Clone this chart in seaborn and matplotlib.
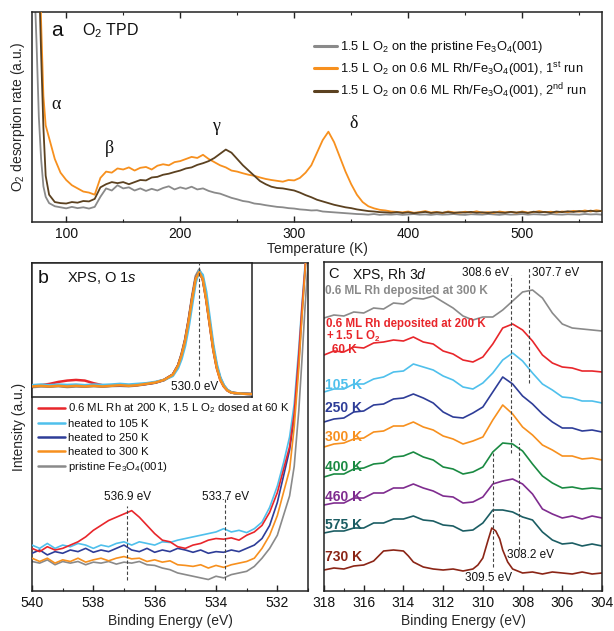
import matplotlib
matplotlib.use("Agg")
import matplotlib.pyplot as plt
from matplotlib.ticker import MultipleLocator
import seaborn as sns

# ------------------------------------------------------------------ data
# Panel a: O2 TPD
TPD_T = [70, 72, 74, 76, 78, 80, 82,
         85, 90, 95, 100, 105, 110, 115, 120, 125, 130,
         135, 140, 145, 150, 155, 160, 165, 170, 175, 180,
         185, 190, 195, 200, 205, 210, 215, 220, 225, 230,
         235, 240, 245, 250, 255, 260, 265, 270, 275, 280,
         285, 290, 295, 300, 305, 310, 315, 320, 325, 330,
         335, 340, 345, 350, 355, 360, 365, 370, 375, 380,
         385, 390, 395, 400, 405, 410, 415, 420, 425, 430,
         435, 440, 445, 450, 455, 460, 465, 470, 475, 480,
         485, 490, 495, 500, 505, 510, 515, 520, 525, 530,
         535, 540, 545, 550, 555, 560, 565, 570]
TPD_pristine = [1.6, 1.15, 0.85, 0.5, 0.3, 0.17, 0.12,
                0.09, 0.075, 0.07, 0.065, 0.072, 0.066, 0.07, 0.064, 0.072, 0.12,
                0.16, 0.15, 0.175, 0.16, 0.165, 0.15, 0.16, 0.148, 0.158, 0.15,
                0.162, 0.17, 0.155, 0.165, 0.158, 0.168, 0.155, 0.16, 0.148, 0.14,
                0.135, 0.125, 0.115, 0.108, 0.1, 0.096, 0.088, 0.085, 0.08, 0.076,
                0.072, 0.07, 0.066, 0.064, 0.06, 0.058, 0.055, 0.056, 0.05, 0.048,
                0.046, 0.044, 0.042, 0.04, 0.038, 0.037, 0.035, 0.038, 0.034, 0.036,
                0.035, 0.037, 0.034, 0.036, 0.038, 0.035, 0.036, 0.034, 0.037, 0.035,
                0.036, 0.038, 0.035, 0.034, 0.037, 0.036, 0.035, 0.038, 0.036, 0.034,
                0.037, 0.035, 0.036, 0.038, 0.035, 0.037, 0.036, 0.034, 0.038, 0.036,
                0.035, 0.037, 0.036, 0.035, 0.038, 0.036, 0.037, 0.035]
TPD_run1 = [3.0, 2.5, 2.0, 1.4, 0.95, 0.6, 0.46,
            0.40, 0.30, 0.235, 0.2, 0.175, 0.16, 0.145, 0.14, 0.13, 0.21,
            0.24, 0.235, 0.255, 0.25, 0.26, 0.245, 0.258, 0.262, 0.25, 0.268,
            0.275, 0.27, 0.285, 0.29, 0.3, 0.31, 0.305, 0.32, 0.3, 0.285,
            0.27, 0.26, 0.245, 0.24, 0.232, 0.225, 0.22, 0.212, 0.205, 0.2,
            0.196, 0.192, 0.2, 0.198, 0.21, 0.235, 0.27, 0.33, 0.39, 0.43,
            0.38, 0.31, 0.24, 0.18, 0.13, 0.095, 0.075, 0.065, 0.058, 0.055,
            0.05, 0.048, 0.046, 0.05, 0.044, 0.047, 0.052, 0.045, 0.048, 0.043,
            0.05, 0.046, 0.044, 0.049, 0.045, 0.051, 0.044, 0.047, 0.043, 0.05,
            0.046, 0.048, 0.044, 0.05, 0.045, 0.047, 0.052, 0.046, 0.049, 0.045,
            0.05, 0.047, 0.053, 0.049, 0.055, 0.05, 0.056, 0.052]
TPD_run2 = [3.0, 2.4, 1.8, 1.2, 0.8, 0.45, 0.22,
            0.13, 0.095, 0.09, 0.088, 0.095, 0.092, 0.1, 0.098, 0.11, 0.165,
            0.18, 0.19, 0.185, 0.19, 0.18, 0.19, 0.2, 0.198, 0.212, 0.215,
            0.225, 0.23, 0.238, 0.245, 0.255, 0.26, 0.272, 0.28, 0.29, 0.305,
            0.325, 0.345, 0.33, 0.3, 0.27, 0.245, 0.22, 0.195, 0.18, 0.168,
            0.162, 0.16, 0.155, 0.15, 0.14, 0.128, 0.118, 0.106, 0.098, 0.09,
            0.082, 0.076, 0.07, 0.066, 0.06, 0.056, 0.052, 0.05, 0.047, 0.046,
            0.044, 0.047, 0.043, 0.046, 0.042, 0.045, 0.048, 0.043, 0.046, 0.044,
            0.047, 0.043, 0.046, 0.045, 0.048, 0.044, 0.046, 0.043, 0.047, 0.045,
            0.044, 0.048, 0.045, 0.047, 0.043, 0.049, 0.046, 0.048, 0.044, 0.05,
            0.047, 0.051, 0.048, 0.052, 0.049, 0.054, 0.05, 0.053]
TPD_labels = [r"1.5 L O$_2$ on the pristine Fe$_3$O$_4$(001)",
              r"1.5 L O$_2$ on 0.6 ML Rh/Fe$_3$O$_4$(001), 1$^{\mathrm{st}}$ run",
              r"1.5 L O$_2$ on 0.6 ML Rh/Fe$_3$O$_4$(001), 2$^{\mathrm{nd}}$ run"]
TPD_greek = ["α", "β", "γ", "δ"]
TPD_greek_T = [91, 138, 231, 352]
TPD_greek_y = [0.56, 0.35, 0.455, 0.47]

# Panel b: O 1s (main, zoomed)
B_E = [540, 539.75, 539.5, 539.25, 539, 538.75, 538.5, 538.25, 538, 537.75,
       537.5, 537.25, 537, 536.75, 536.5, 536.25, 536, 535.75, 535.5, 535.25,
       535, 534.75, 534.5, 534.25, 534, 533.75, 533.5, 533.25, 533, 532.75,
       532.5, 532.25, 532.0, 531.8, 531.6, 531.45, 531.3, 531.2, 531.1, 531.0]
B_red = [0.13, 0.12, 0.135, 0.125, 0.13, 0.14, 0.15, 0.165, 0.185, 0.2,
         0.215, 0.225, 0.235, 0.245, 0.225, 0.2, 0.175, 0.155, 0.15, 0.135,
         0.13, 0.14, 0.145, 0.155, 0.16, 0.158, 0.162, 0.155, 0.17, 0.18,
         0.2, 0.24, 0.3, 0.37, 0.44, 0.54, 0.72, 0.86, 0.98, 1.12]
B_105 = [0.14, 0.13, 0.145, 0.13, 0.14, 0.135, 0.145, 0.14, 0.13, 0.14,
         0.135, 0.145, 0.15, 0.14, 0.15, 0.145, 0.14, 0.15, 0.148, 0.155,
         0.16, 0.165, 0.17, 0.175, 0.18, 0.19, 0.18, 0.185, 0.178, 0.19,
         0.21, 0.255, 0.32, 0.39, 0.47, 0.57, 0.74, 0.87, 0.99, 1.12]
B_250 = [0.115, 0.125, 0.11, 0.12, 0.115, 0.125, 0.12, 0.13, 0.118, 0.125,
         0.12, 0.13, 0.14, 0.125, 0.12, 0.13, 0.118, 0.125, 0.12, 0.13,
         0.125, 0.118, 0.125, 0.115, 0.12, 0.118, 0.125, 0.12, 0.13, 0.14,
         0.16, 0.2, 0.27, 0.35, 0.43, 0.53, 0.7, 0.84, 0.97, 1.1]
B_300 = [0.1, 0.09, 0.1, 0.085, 0.095, 0.09, 0.1, 0.088, 0.095, 0.1,
         0.092, 0.1, 0.105, 0.098, 0.1, 0.09, 0.095, 0.088, 0.092, 0.08,
         0.078, 0.075, 0.08, 0.07, 0.078, 0.072, 0.08, 0.085, 0.09, 0.1,
         0.13, 0.17, 0.23, 0.3, 0.37, 0.5, 0.68, 0.83, 0.97, 1.1]
B_pristine = [0.09, 0.085, 0.095, 0.08, 0.09, 0.085, 0.09, 0.08, 0.088, 0.085,
              0.09, 0.082, 0.088, 0.085, 0.09, 0.08, 0.078, 0.07, 0.065, 0.055,
              0.05, 0.045, 0.04, 0.035, 0.045, 0.04, 0.05, 0.055, 0.06, 0.075,
              0.1, 0.13, 0.17, 0.23, 0.29, 0.38, 0.55, 0.7, 0.86, 1.0]
B_labels = [r"0.6 ML Rh at 200 K, 1.5 L O$_2$ dosed at 60 K",
            "heated to 105 K", "heated to 250 K", "heated to 300 K",
            r"pristine Fe$_3$O$_4$(001)"]
B_marks_E = [536.9, 533.7]
B_marks_lo = [0.034, 0.034]
B_marks_hi = [0.26, 0.28]
B_marks_text = ["536.9 eV", "533.7 eV"]

# Panel b inset: full O 1s
I_E = [539.5, 539, 538.5, 538, 537.5, 537, 536.5, 536, 535.5, 535,
       534.5, 534, 533.5, 533, 532.5, 532, 531.5, 531.2, 531.0, 530.8,
       530.6, 530.4, 530.2, 530.0, 529.8, 529.6, 529.4, 529.2, 529.0, 528.8,
       528.6, 528.4, 528.2, 528.0, 527.5, 527.0]
I_red = [0.085, 0.09, 0.1, 0.115, 0.125, 0.13, 0.125, 0.105, 0.09, 0.088,
         0.09, 0.088, 0.092, 0.1, 0.11, 0.13, 0.17, 0.24, 0.32, 0.43,
         0.58, 0.75, 0.9, 0.95, 0.9, 0.74, 0.55, 0.36, 0.22, 0.13,
         0.08, 0.05, 0.035, 0.03, 0.025, 0.022]
I_105 = [0.09, 0.095, 0.09, 0.095, 0.092, 0.095, 0.09, 0.095, 0.092, 0.095,
         0.1, 0.095, 0.1, 0.105, 0.115, 0.13, 0.16, 0.22, 0.29, 0.39,
         0.53, 0.7, 0.87, 0.96, 0.93, 0.8, 0.6, 0.4, 0.25, 0.15,
         0.09, 0.055, 0.038, 0.03, 0.025, 0.022]
I_250 = [0.082, 0.088, 0.083, 0.087, 0.082, 0.086, 0.083, 0.087, 0.082, 0.086,
         0.09, 0.087, 0.092, 0.1, 0.11, 0.13, 0.17, 0.24, 0.32, 0.43,
         0.58, 0.75, 0.9, 0.95, 0.9, 0.75, 0.56, 0.37, 0.23, 0.14,
         0.085, 0.052, 0.036, 0.03, 0.025, 0.022]
I_300 = [0.08, 0.085, 0.08, 0.085, 0.08, 0.085, 0.08, 0.085, 0.08, 0.085,
         0.09, 0.085, 0.09, 0.1, 0.11, 0.13, 0.17, 0.24, 0.32, 0.43,
         0.58, 0.75, 0.9, 0.95, 0.9, 0.74, 0.55, 0.36, 0.22, 0.13,
         0.08, 0.05, 0.035, 0.03, 0.025, 0.022]
I_pristine = [0.075, 0.08, 0.078, 0.082, 0.076, 0.08, 0.078, 0.082, 0.079, 0.083,
              0.085, 0.082, 0.088, 0.098, 0.108, 0.128, 0.17, 0.24, 0.33, 0.44,
              0.59, 0.77, 0.92, 0.97, 0.91, 0.75, 0.56, 0.37, 0.23, 0.14,
              0.085, 0.052, 0.037, 0.03, 0.026, 0.022]
I_mark_E = 530.0
I_mark_text = "530.0 eV"

# Panel c: Rh 3d (stacked, offsets included)
C_E = [318, 317.5, 317, 316.5, 316, 315.5, 315, 314.5, 314, 313.5,
       313, 312.5, 312, 311.5, 311, 310.5, 310, 309.5, 309, 308.5,
       308, 307.5, 307, 306.5, 306, 305.5, 305, 304.5, 304]
C_dep300 = [273, 276, 275, 279, 278, 283, 282, 288, 287, 293,
            292, 295, 289, 283, 275, 271, 274, 274, 281, 290,
            299, 301, 293, 278, 267, 263, 262, 261, 260]
C_60 = [236, 240, 239, 244, 243, 248, 249, 251, 250, 254,
        249, 247, 240, 237, 231, 229, 234, 247, 263, 267,
        261, 250, 236, 228, 224, 223, 220, 220, 219]
C_105 = [199, 202, 202, 207, 207, 212, 214, 219, 220, 227,
         224, 221, 215, 211, 204, 202, 208, 218, 231, 238,
         230, 218, 207, 201, 194, 193, 190, 190, 188]
C_250 = [169, 172, 173, 179, 180, 186, 187, 192, 193, 197,
         193, 188, 179, 174, 173, 178, 184, 199, 214, 207,
         195, 187, 177, 169, 163, 163, 160, 161, 159]
C_300 = [144, 147, 148, 152, 153, 159, 160, 165, 165, 169,
         164, 161, 155, 152, 147, 150, 154, 171, 186, 177,
         164, 156, 146, 141, 135, 135, 132, 133, 131]
C_400 = [114, 117, 117, 122, 123, 127, 128, 134, 135, 139,
         134, 131, 124, 122, 117, 119, 124, 139, 148, 147,
         140, 127, 115, 108, 103, 104, 102, 103, 102]
C_460 = [86, 88, 88, 93, 93, 98, 98, 103, 103, 107,
         103, 100, 95, 94, 88, 89, 94, 107, 110, 112,
         107, 97, 82, 77, 73, 75, 72, 75, 73]
C_575 = [58, 60, 60, 63, 63, 68, 68, 72, 72, 75,
         71, 70, 66, 65, 60, 61, 68, 81, 81, 79,
         74, 71, 59, 51, 47, 48, 45, 47, 45]
C_E730 = [318, 317.5, 317, 316.5, 316, 315.5, 315.25, 315, 314.5, 314,
          313.75, 313.5, 313, 312.5, 312, 311.5, 311, 310.5, 310.25, 310,
          309.75, 309.55, 309.35, 309.15, 309, 308.75, 308.5, 308, 307.5, 307,
          306.5, 306, 305.5, 305, 304.5, 304]
C_730 = [21, 23, 22, 25, 26, 30, 35, 40, 41, 40,
         35, 29, 24, 22, 21, 22, 20, 22, 26, 33,
         50, 63, 60, 52, 41, 29, 22, 18, 19, 17,
         19, 18, 17, 19, 17, 18]
C_temp_labels = ["105 K", "250 K", "300 K", "400 K", "460 K", "575 K", "730 K"]
C_temp_label_y = [206, 183, 154, 124, 94, 66, 34]
C_marks_E = [308.6, 307.7, 309.5, 308.2]
C_marks_lo = [138, 208, 24, 41]
C_marks_hi = [316, 323, 138, 148]

# ------------------------------------------------------------------ style
sns.set_theme(style="ticks")
plt.rcParams['font.family'] = ['Liberation Sans', 'DejaVu Sans']
plt.rcParams['mathtext.fontset'] = 'custom'
plt.rcParams['mathtext.rm'] = 'Liberation Sans'
plt.rcParams['mathtext.it'] = 'Liberation Sans:italic'
plt.rcParams['mathtext.bf'] = 'Liberation Sans:bold'
plt.rcParams['axes.linewidth'] = 1.1
plt.rcParams['axes.edgecolor'] = '#222222'
plt.rcParams['text.color'] = '#111111'

GREY = '#8a8a8a'
ORANGE = '#f7901e'
BROWN = '#5b4120'
RED = '#e8262b'
LBLUE = '#4fc0ec'
DBLUE = '#2e3d98'
GREEN = '#1a8a42'
PURPLE = '#7f2c8f'
TEAL = '#1b5d63'
BRED = '#8b2516'

fig = plt.figure(figsize=(6.14, 6.31), dpi=100)
W, H = 614.0, 631.0
axA = fig.add_axes([32 / W, 1 - 222 / H, 570 / W, 210 / H])
axB = fig.add_axes([32 / W, 1 - 591 / H, 276 / W, 328 / H])
axI = fig.add_axes([32 / W, 1 - 397 / H, 220 / W, 134 / H])
axC = fig.add_axes([324 / W, 1 - 591 / H, 278 / W, 329 / H])


def line(ax, x, y, color, lw=1.2, label=None, z=2):
    sns.lineplot(x=x, y=y, ax=ax, color=color, lw=lw, sort=False,
                 estimator=None, label=label, legend=False, zorder=z)


def style_x(ax, major, minor, top=False):
    ax.xaxis.set_major_locator(MultipleLocator(major))
    ax.xaxis.set_minor_locator(MultipleLocator(minor))
    ax.tick_params(axis='x', which='both', direction='in', top=top,
                   bottom=True, labelsize=10, pad=3.5, colors='#222222',
                   labelcolor='#111111')
    ax.tick_params(axis='x', which='major', length=4, width=1)
    ax.tick_params(axis='x', which='minor', length=2.5, width=0.8)
    ax.tick_params(axis='y', which='both', left=False, right=False,
                   labelleft=False)
    ax.set_yticks([])


# ------------------------------------------------------------------ panel a
line(axA, TPD_T, TPD_pristine, GREY, 1.3, TPD_labels[0], 2)
line(axA, TPD_T, TPD_run1, ORANGE, 1.3, TPD_labels[1], 3)
line(axA, TPD_T, TPD_run2, BROWN, 1.3, TPD_labels[2], 4)
axA.set_xlim(70, 570)
axA.set_ylim(0, 1.0)
style_x(axA, 100, 50, top=True)
axA.set_xlabel("Temperature (K)", fontsize=10)
axA.xaxis.set_label_coords(0.5, -0.095)
axA.set_ylabel(r"O$_2$ desorption rate (a.u.)", fontsize=10)
axA.yaxis.set_label_coords(-0.009, 0.5)
legA = axA.legend(loc='upper left', bbox_to_anchor=(0.494, 0.87),
                  frameon=False, fontsize=9.3, handlelength=1.8,
                  handletextpad=0.25, labelspacing=0.32, borderpad=0,
                  borderaxespad=0)
for h in legA.get_lines():
    h.set_linewidth(2.2)
axA.text(87, 0.91, "a", fontsize=15, va='center', ha='left')
axA.text(114, 0.91, r"O$_2$ TPD", fontsize=11.5, va='center', ha='left')
for g, t, y in zip(TPD_greek, TPD_greek_T, TPD_greek_y):
    axA.text(t, y, g, fontsize=13, family=['Liberation Serif', 'DejaVu Serif'],
             ha='center', va='center')

# ------------------------------------------------------------------ panel b
line(axB, B_E, B_pristine, GREY, 1.2, B_labels[4], 2)
line(axB, B_E, B_250, DBLUE, 1.2, B_labels[2], 3)
line(axB, B_E, B_105, LBLUE, 1.2, B_labels[1], 4)
line(axB, B_E, B_red, RED, 1.2, B_labels[0], 5)
line(axB, B_E, B_300, ORANGE, 1.2, B_labels[3], 6)
axB.set_xlim(540, 531)
axB.set_ylim(0, 1.0)
style_x(axB, 2, 1)
axB.set_xlabel("Binding Energy (eV)", fontsize=10)
axB.xaxis.set_label_coords(0.5, -0.07)
axB.set_ylabel("Intensity (a.u.)", fontsize=10)
axB.yaxis.set_label_coords(-0.02, 0.5)
axB.vlines(B_marks_E, B_marks_lo, B_marks_hi, colors='#444444',
           linestyles=(0, (3, 2)), lw=0.8, zorder=7)
for e, hi, txt in zip(B_marks_E, B_marks_hi, B_marks_text):
    axB.text(e, 0.287, txt, fontsize=8.5, ha='center', va='center')
hB, lB = axB.get_legend_handles_labels()
order = [lB.index(s) for s in B_labels]
legB = axB.legend([hB[i] for i in order], [lB[i] for i in order],
                  loc='upper left', bbox_to_anchor=(0.02, 0.577),
                  frameon=False, fontsize=8.2, handlelength=2.4,
                  handletextpad=0.3, labelspacing=0.33, borderpad=0,
                  borderaxespad=0)
for h in legB.get_lines():
    h.set_linewidth(1.8)

# inset
line(axI, I_E, I_pristine, GREY, 1.8, None, 2)
line(axI, I_E, I_red, RED, 1.8, None, 3)
line(axI, I_E, I_250, DBLUE, 1.8, None, 4)
line(axI, I_E, I_105, LBLUE, 1.8, None, 5)
line(axI, I_E, I_300, ORANGE, 1.8, None, 6)
axI.set_xlim(539.5, 527)
axI.set_ylim(0, 1.02)
axI.set_xticks([])
axI.set_yticks([])
axI.set_facecolor('white')
axI.vlines([I_mark_E], [0.16], [1.02], colors='#444444',
           linestyles=(0, (3, 2)), lw=0.8, zorder=7)
axI.text(530.25, 0.075, I_mark_text, fontsize=8.5, ha='center', va='center')
axI.text(0.027, 0.885, "b", transform=axI.transAxes, fontsize=14,
         va='center', ha='left')
axI.text(0.16, 0.885, r"XPS, O 1$\mathit{s}$", transform=axI.transAxes,
         fontsize=10.5, va='center', ha='left')

# ------------------------------------------------------------------ panel c
line(axC, C_E, C_dep300, GREY)
line(axC, C_E, C_60, RED)
line(axC, C_E, C_105, LBLUE)
line(axC, C_E, C_250, DBLUE)
line(axC, C_E, C_300, ORANGE)
line(axC, C_E, C_400, GREEN)
line(axC, C_E, C_460, PURPLE)
line(axC, C_E, C_575, TEAL)
line(axC, C_E730, C_730, BRED)
axC.set_xlim(318, 304)
axC.set_ylim(0, 329)
style_x(axC, 2, 1)
axC.set_xlabel("Binding Energy (eV)", fontsize=10)
axC.xaxis.set_label_coords(0.5, -0.07)
axC.vlines(C_marks_E, C_marks_lo, C_marks_hi, colors='#444444',
           linestyles=(0, (3, 2)), lw=0.8, zorder=7)
axC.text(308.7, 318, "308.6 eV", fontsize=8.5, ha='right', va='center')
axC.text(307.5, 318, "307.7 eV", fontsize=8.5, ha='left', va='center')
axC.text(307.6, 36, "308.2 eV", fontsize=8.5, ha='center', va='center')
axC.text(309.7, 13, "309.5 eV", fontsize=8.5, ha='center', va='center')
axC.text(317.8, 317, "C", fontsize=10.5, ha='left', va='center')
axC.text(316.6, 317, r"XPS, Rh 3$\mathit{d}$", fontsize=10, ha='left',
         va='center')
axC.text(317.95, 300, "0.6 ML Rh deposited at 300 K", fontsize=8.5,
         fontweight='bold', color=GREY, ha='left', va='center')
axC.text(317.9, 267, "0.6 ML Rh deposited at 200 K", fontsize=8.3,
         fontweight='bold', color=RED, ha='left', va='center')
axC.text(317.9, 255, r"+ 1.5 L O$_\mathbf{2}$", fontsize=8.3,
         fontweight='bold', color=RED, ha='left', va='center')
axC.text(317.6, 241, "60 K", fontsize=8.5, fontweight='bold', color=RED,
         ha='left', va='center')
for txt, y, c in zip(C_temp_labels, C_temp_label_y,
                     [LBLUE, DBLUE, ORANGE, GREEN, PURPLE, TEAL, BRED]):
    axC.text(317.95, y, txt, fontsize=10, fontweight='bold', color=c,
             ha='left', va='center')

fig.savefig("out.png", dpi=100)
